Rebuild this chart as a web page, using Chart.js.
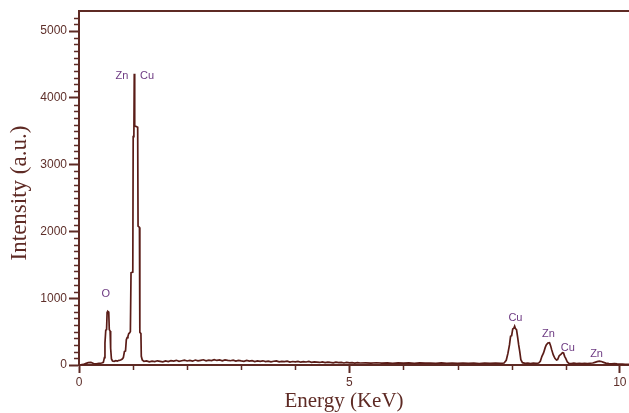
<!DOCTYPE html>
<html>
<head>
<meta charset="utf-8">
<script src="https://cdn.jsdelivr.net/npm/chart.js@4/dist/chart.umd.min.js"></script>
<style>
  html, body { margin: 0; padding: 0; background: #ffffff; }
  #wrap { width: 629px; height: 413px; }
</style>
</head>
<body>
<div id="wrap"><canvas id="eds" width="629" height="413"></canvas></div>
<script>
// EDS spectrum: channel energies (keV) and counts
const energies = [
  0.03, 0.08, 0.12, 0.17, 0.22, 0.27, 0.32, 0.37, 0.42,
  0.45, 0.47, 0.48, 0.495, 0.51, 0.52, 0.535, 0.55, 0.56, 0.575, 0.585, 0.6, 0.62,
  0.65, 0.68, 0.71, 0.74, 0.77, 0.8,
  0.82, 0.84, 0.86, 0.875, 0.89, 0.905, 0.92, 0.935, 0.95,
  0.955, 0.962, 0.995, 1.002, 1.015, 1.022, 1.03, 1.085, 1.092, 1.118, 1.125, 1.145, 1.152, 1.17,
  1.2, 1.25, 1.3, 1.35, 1.4, 1.45, 1.5, 1.55, 1.6, 1.65, 1.7, 1.75, 1.8, 1.85, 1.9, 1.95,
  2.0, 2.05, 2.1, 2.15, 2.2, 2.25, 2.3, 2.35, 2.4, 2.45, 2.5, 2.55, 2.6, 2.65, 2.7, 2.75,
  2.8, 2.85, 2.9, 2.95, 3.0, 3.05, 3.1, 3.15, 3.2, 3.25, 3.3, 3.35, 3.4, 3.45, 3.5, 3.55,
  3.6, 3.65, 3.7, 3.75, 3.8, 3.85, 3.9, 3.95, 4.0, 4.05, 4.1, 4.15, 4.2, 4.25, 4.3, 4.35,
  4.4, 4.45, 4.5, 4.55, 4.6, 4.65, 4.7, 4.75, 4.8, 4.85, 4.9, 4.95, 5.0, 5.05, 5.1, 5.15,
  5.2, 5.3, 5.4, 5.5, 5.6, 5.7, 5.8, 5.9, 6.0, 6.1, 6.2, 6.3, 6.4, 6.5, 6.6, 6.7, 6.8, 6.9,
  7.0, 7.1, 7.2, 7.3, 7.4, 7.5, 7.6, 7.7, 7.8,
  7.86, 7.9, 7.93, 7.96, 7.98, 8.0, 8.02, 8.04, 8.055, 8.07, 8.09, 8.11, 8.13, 8.15, 8.17, 8.2,
  8.25, 8.3, 8.35, 8.4, 8.45, 8.5,
  8.53, 8.56, 8.59, 8.62, 8.64, 8.67, 8.7, 8.72, 8.74, 8.77, 8.8, 8.83, 8.85,
  8.88, 8.91, 8.94, 8.96, 8.98, 9.0, 9.03, 9.06, 9.1, 9.15, 9.2, 9.25, 9.3, 9.35, 9.4, 9.45, 9.5,
  9.54, 9.58, 9.62, 9.66, 9.7, 9.74, 9.8, 9.85, 9.9, 9.95, 10.0, 10.05, 10.1, 10.17
];
const counts = [
  3, 8, 20, 35, 38, 22, 18, 25, 30,
  40, 110, 330, 520, 530, 790, 800, 790, 530, 510, 250, 90, 60,
  55, 65, 60, 70, 75, 90,
  110, 200, 210, 380, 410, 430, 470, 480, 500,
  500, 1380, 1390, 3420, 3440, 4360, 3580, 3560, 2080, 2060, 490, 470, 130, 75,
  55, 62, 48, 58, 50, 63, 55, 47, 60, 52, 66, 58, 70, 55, 64, 72,
  60, 68, 57, 74, 62, 70, 78, 63, 72, 66, 80, 68, 75, 62, 77, 70,
  64, 73, 60, 70, 62, 56, 68, 58, 65, 52, 61, 55, 63, 50, 58, 48,
  56, 62, 47, 55, 50, 58, 44, 52, 46, 55, 42, 50, 45, 53, 40, 48,
  43, 38, 46, 36, 44, 38, 33, 42, 35, 40, 30, 38, 32, 36, 28, 35,
  30, 33, 27, 34, 29, 32, 26, 33, 28, 31, 25, 32, 27, 30, 24, 31, 26, 29,
  23, 30, 25, 28, 22, 29, 24, 27, 25,
  30, 70, 170, 300, 430, 440, 540, 550, 580, 545, 530, 420, 300, 200, 80, 35,
  25, 28, 22, 27, 24, 30,
  55, 130, 180, 260, 300, 330, 335, 290, 230, 150, 100, 75, 80,
  140, 160, 185, 180, 130, 100, 45, 25, 22, 27, 21, 26, 20, 25, 22, 26, 30,
  40, 50, 58, 52, 40, 28, 22, 18, 22, 17, 14, 12, 10, 8
];

// Element labels placed above their lines (energy in keV, height in counts)
const peakNames  = ['O',   'Zn',  'Cu',  'Cu',  'Zn',  'Cu',  'Zn'];
const peakEnergy = [0.495, 0.795, 1.26,  8.07,  8.68,  9.04,  9.57];
const peakHeight = [1065,  4320,  4320,  700,   460,   255,   170];

// Labelled ticks on each axis
const xTickValues = [0, 5, 10];
const yTickValues = [0, 1000, 2000, 3000, 4000, 5000];

// Axis ranges and minor tick steps
const xMin = 0, xMax = 10.17, xMinor = 1;
const yMin = 0, yMax = 5300, yMinor = 100;

const axisColor = '#5e2a24';
const textColor = '#5e2f2a';
const lineColor = '#5a1c17';
const labelColor = '#6d3a82';

const spectrum = energies.map((e, i) => ({ x: e, y: counts[i] }));

// Short minor ticks, top frame line, axis titles and element labels
const decorations = {
  id: 'decorations',
  afterDraw(chart) {
    const { ctx, chartArea: a, scales: { x, y } } = chart;
    ctx.save();
    ctx.strokeStyle = axisColor;
    ctx.lineWidth = 1.5;
    ctx.beginPath();
    for (let v = yMin + yMinor; v < yMax - 1e-6; v += yMinor) {
      if (yTickValues.some(t => Math.abs(t - v) < 1e-6)) continue;
      const py = Math.round(y.getPixelForValue(v)) + 0.5;
      ctx.moveTo(a.left - 5, py);
      ctx.lineTo(a.left, py);
    }
    for (let v = xMin + xMinor; v < xMax; v += xMinor) {
      if (xTickValues.some(t => Math.abs(t - v) < 1e-6)) continue;
      const px = Math.round(x.getPixelForValue(v)) + 0.5;
      ctx.moveTo(px, a.bottom);
      ctx.lineTo(px, a.bottom + 5);
    }
    ctx.stroke();

    // frame along the top
    ctx.lineWidth = 2;
    ctx.beginPath();
    ctx.moveTo(a.left - 1, a.top);
    ctx.lineTo(a.right, a.top);
    ctx.stroke();

    // axis titles
    ctx.fillStyle = axisColor;
    ctx.textAlign = 'center';
    ctx.textBaseline = 'middle';
    ctx.font = '21px "Liberation Serif", "Times New Roman", serif';
    ctx.fillText('Energy (KeV)', x.getPixelForValue(4.9), 401);
    ctx.save();
    ctx.translate(20, (a.top + a.bottom) / 2 + 5);
    ctx.rotate(-Math.PI / 2);
    ctx.font = '23px "Liberation Serif", "Times New Roman", serif';
    ctx.fillText('Intensity (a.u.)', 0, 0);
    ctx.restore();

    // element labels
    ctx.fillStyle = labelColor;
    ctx.font = '11px "Liberation Sans", Arial, sans-serif';
    peakNames.forEach((name, i) => {
      ctx.fillText(name, x.getPixelForValue(peakEnergy[i]), y.getPixelForValue(peakHeight[i]));
    });
    ctx.restore();
  }
};

const tickFont = { family: '"Liberation Sans", Arial, sans-serif', size: 12 };

new Chart(document.getElementById('eds'), {
  type: 'line',
  data: {
    datasets: [{
      data: spectrum,
      borderColor: lineColor,
      borderWidth: 1.7,
      pointRadius: 0,
      tension: 0,
      fill: false
    }]
  },
  options: {
    responsive: false,
    devicePixelRatio: 1,
    animation: false,
    layout: { padding: { top: 11, right: 0, left: 0, bottom: 0 } },
    plugins: { legend: { display: false }, tooltip: { enabled: false } },
    scales: {
      x: {
        type: 'linear',
        min: xMin,
        max: xMax,
        afterBuildTicks(scale) { scale.ticks = xTickValues.map(v => ({ value: v })); },
        afterFit(scale) { scale.height = 48; },
        border: { color: axisColor, width: 2 },
        grid: { drawOnChartArea: false, tickLength: 8, tickColor: axisColor, tickWidth: 2 },
        ticks: {
          color: textColor,
          padding: 2,
          maxRotation: 0,
          autoSkip: false,
          font: tickFont,
          callback: v => String(v)
        }
      },
      y: {
        type: 'linear',
        min: yMin,
        max: yMax,
        afterBuildTicks(scale) { scale.ticks = yTickValues.map(v => ({ value: v })); },
        afterFit(scale) { scale.width = 79; },
        border: { color: axisColor, width: 2 },
        grid: { drawOnChartArea: false, tickLength: 10, tickColor: axisColor, tickWidth: 2 },
        ticks: {
          color: textColor,
          padding: 2,
          autoSkip: false,
          font: tickFont,
          callback: v => String(v)
        }
      }
    }
  },
  plugins: [decorations]
});
</script>
</body>
</html>
